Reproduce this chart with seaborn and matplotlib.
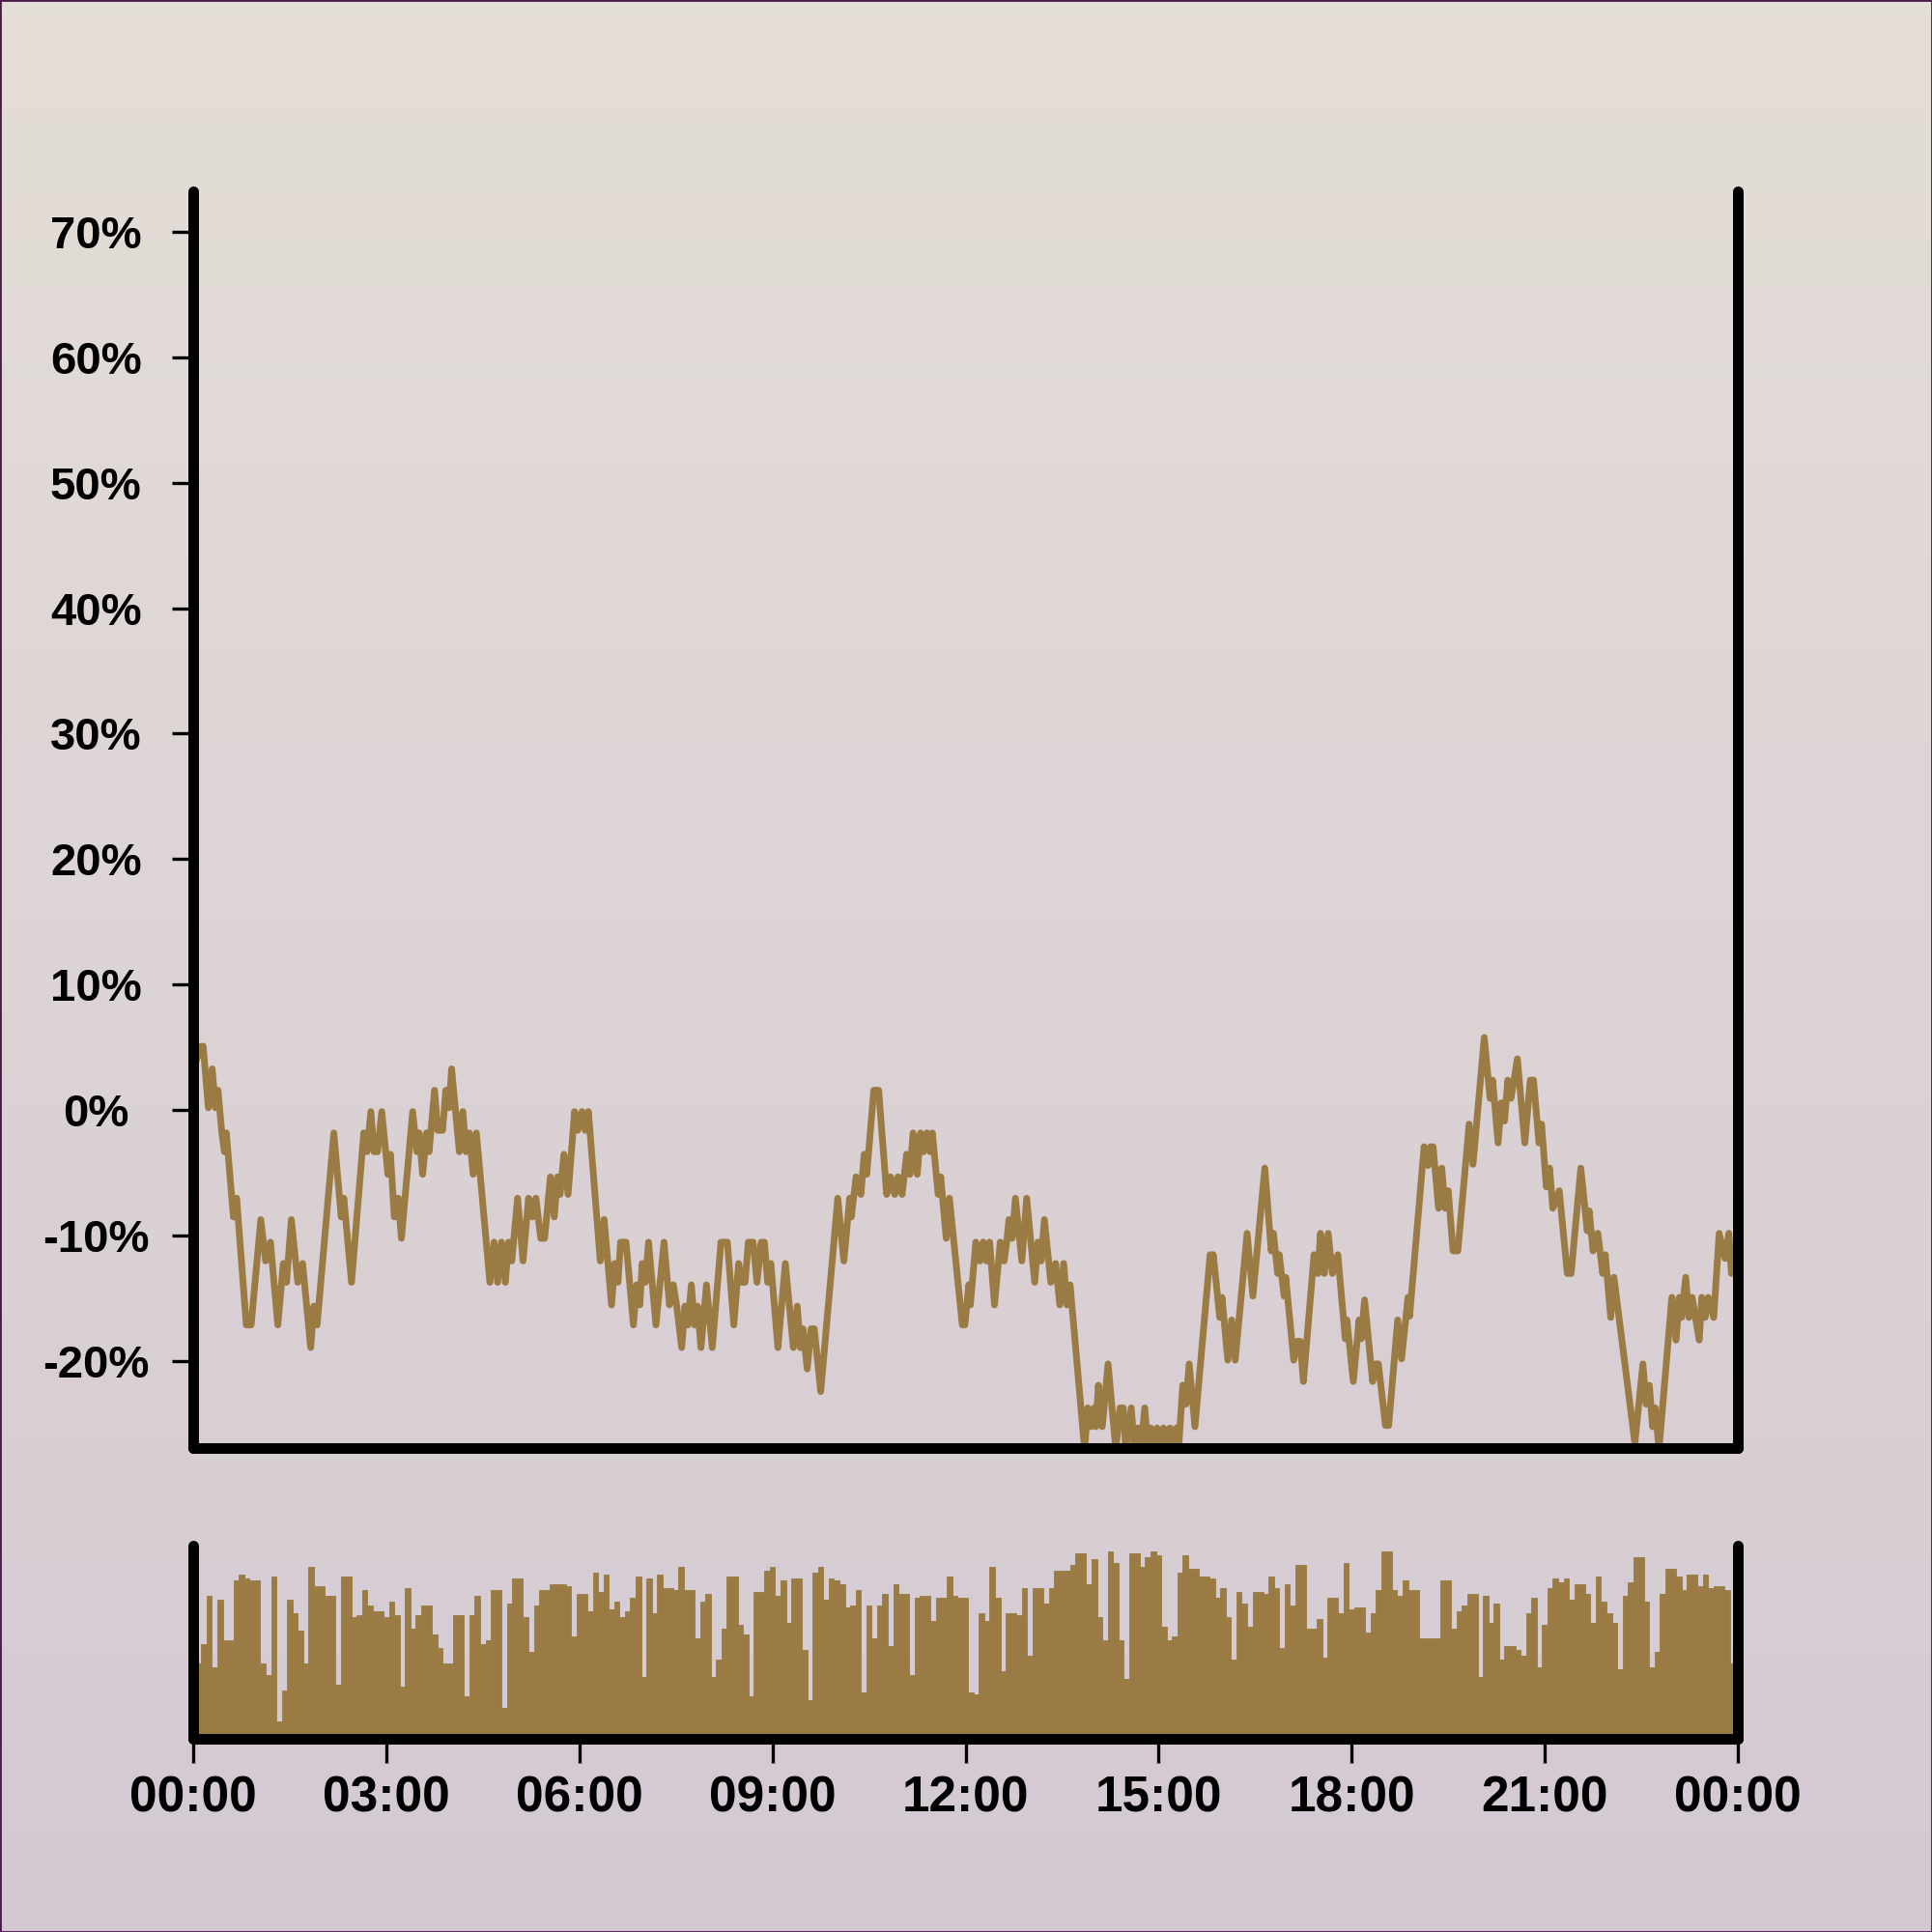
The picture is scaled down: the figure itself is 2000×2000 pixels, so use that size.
import numpy as np
import matplotlib
matplotlib.use("Agg")
import matplotlib.pyplot as plt
import seaborn as sns
from matplotlib.ticker import FixedLocator, FuncFormatter
from matplotlib.patches import Rectangle

# ---------------- data ----------------
# price change line: time (minutes after midnight) and change in %
line_minutes = [
    0, 7.5, 9.3, 14.1, 17.7, 20.7, 23.1, 26.7, 29.1, 30.9, 37.5, 40.5, 49.5, 54, 63, 67.5, 72, 78.9,
    84, 87, 91.5, 97.5, 102, 109.5, 112.5, 115.5, 131.1, 138, 140.4, 147.6, 159, 162, 165.6, 168.6,
    171.9, 175.8, 181.5, 183.9, 187.5, 191.1, 194.1, 204.6, 208.5, 210.6, 213.9, 217.5, 219.9, 225,
    228, 232.5, 235.5, 238.5, 240.9,
    248.1, 251.4, 254.4, 257.4, 261, 264, 276.6, 280.5, 283.8, 287.4, 291, 294, 297, 302.4, 307.5,
    312.6, 316.5, 319.5, 324, 327.6, 333, 336.6, 339.6, 342, 345.6, 349.5, 355.5, 358.5, 362.4,
    365.4, 368.4, 379.5, 383.1, 390, 393, 396, 398.4, 403.5, 410.4, 413.4, 416.4, 418.5, 421.5,
    424.5, 431.4, 438.9, 444, 447.6, 450.6, 455.4, 458.4, 461.1, 464.4, 467.4, 470.1, 473.4, 478.5,
    483.9, 492, 498, 504, 508.5, 511.5, 514.5, 517.5, 522, 525.6, 529.5, 532.5, 535.5, 538.5, 545.1,
    552, 559.5, 563.1, 566.1, 568.5, 572.4, 576, 579, 585, 600.9, 606.6, 612, 613.5, 618, 622.5,
    625.5, 627.9, 634.5, 639, 646.5, 650.1, 654, 657, 660.9, 665.1, 668.1, 671.1, 675, 678, 681,
    684, 687, 689.1, 694.5, 696.9, 702, 705, 717,
    719.4, 723, 724.5, 729.6, 733.5, 736.5, 739.5, 742.5, 747, 752.4, 756, 758.4, 760.5, 763.5,
    766.5, 772.5, 777, 784.5, 787.5, 790.5, 793.5, 799.5, 804, 807.9, 811.5, 814.5, 817.5, 831,
    834, 837, 840, 841.5, 843.9, 847.5, 852.9, 860.1, 864, 867, 869.4, 874.5, 877.5, 880.5, 883.5,
    887.1, 890.1, 892.5, 895.5, 898.5, 901.5, 904.5, 907.5, 910.5, 913.5, 916.5, 918.6, 922.5,
    925.5, 928.5, 933.9, 948, 951,
    957, 959.1, 964.5, 968.1, 971.4, 982.5, 987.9, 999, 1005, 1007.1, 1011, 1012.5, 1017, 1018.5,
    1026, 1029, 1032, 1035, 1044.9, 1048.5, 1050.9, 1054.5, 1058.1, 1062, 1067.1, 1074, 1075.5,
    1081.5, 1086.9, 1089, 1092, 1099.5, 1102.5, 1104.9, 1111.5, 1114.5, 1122.9, 1126.5, 1132.5,
    1134, 1147.5, 1151.1, 1153.5, 1155.9, 1161, 1164, 1167, 1170, 1174.5, 1179, 1189.5, 1193.1,
    1203.6, 1209, 1211.4, 1216.5, 1219.5, 1222.5, 1225.5, 1228.5, 1234.5, 1241.4, 1246.5, 1249.5,
    1254.6, 1257, 1261.5, 1264.5, 1267.5, 1273.5, 1281, 1284.6, 1293.6, 1299.6, 1301.4, 1305,
    1309.5, 1314, 1316.4, 1321.5, 1324.5, 1344, 1351.5, 1354.5, 1357.5, 1360.5, 1362.9, 1366.5,
    1378.5, 1382.4, 1385.4, 1387.5, 1391.4, 1394.4, 1397.4, 1404, 1406.4, 1409.4, 1412.4, 1417.5,
    1422.6, 1428, 1431.6, 1434,
]
line_pct = [
    3.3, 5.1, 5.1, 0.2, 3.3, 0.2, 1.6, -1.8, -3.3, -1.8, -8.5, -7.0, -17.1, -17.1, -8.7, -12.0, -10.5, -17.1,
    -12.2, -13.7, -8.7, -13.7, -12.2, -18.9, -15.6, -17.1, -1.8, -8.5, -7.0, -13.7, -1.8, -3.3, -0.1, -3.3,
    -3.3, -0.1, -5.1, -3.5, -8.5, -7.0, -10.2, -0.1, -3.3, -1.8, -5.1, -1.8, -3.3, 1.6,
    -1.6, -1.6, 1.6, 0.2, 3.3,
    -3.3, -0.1, -3.3, -1.8, -5.1, -1.8, -13.7, -10.5, -13.7, -10.5, -13.7, -10.5, -12.0, -7.0, -12.0,
    -7.0, -8.5, -7.0, -10.2, -10.2, -5.3, -8.5, -5.3, -6.7, -3.5, -6.7, -0.1, -1.6, -0.1,
    -1.6, -0.1, -12.0, -8.7, -15.5, -12.2, -13.7, -10.5, -10.5, -17.1, -13.9, -15.5, -12.2, -13.7,
    -10.5, -17.1, -10.5, -15.5, -13.9, -15.5, -18.9, -15.6, -17.1, -13.9, -17.1, -15.6, -18.9, -13.9,
    -18.9, -10.5, -10.5, -17.1, -12.2, -13.7, -13.7, -10.5, -10.5, -13.7, -10.5, -10.5, -13.7, -12.2, -18.9,
    -12.2, -18.9, -15.6, -18.9, -17.4, -20.6, -17.4, -17.4, -22.4, -7.0, -12.0, -7.0, -8.5, -5.3, -6.7,
    -3.5, -5.1, 1.6, 1.6, -6.7, -5.3, -6.7, -5.3, -6.7, -3.5, -5.1, -1.8, -5.1, -1.8, -3.3,
    -1.8, -3.3, -1.8, -6.7, -5.3, -10.2, -7.0, -17.1,
    -17.1, -13.9, -15.5, -10.5, -12.0, -10.5, -12.0, -10.5, -15.5, -10.5, -12.0, -10.5, -8.7, -10.2,
    -7.0, -12.0, -7.0, -13.7, -10.5, -12.0, -8.7, -13.7, -12.2, -15.5, -12.2, -15.5, -13.9, -27.0,
    -23.7, -25.2, -23.7, -25.2, -21.9, -25.2, -20.2, -27.0, -23.7, -23.7, -27.0, -23.7, -27.0, -25.3, -27.0,
    -23.7, -27.0, -25.3, -27.0, -25.3, -27.0, -25.3, -27.0, -25.3, -27.0, -25.3, -27.0, -21.9,
    -23.4, -20.2, -25.2, -11.5, -11.5,
    -16.5, -14.9, -19.9, -16.7, -19.9, -9.8, -14.8, -4.6, -11.2, -9.8, -13.0, -11.5, -14.8, -13.3,
    -19.9, -18.4, -18.4, -21.6, -11.5, -13.0, -9.8, -13.0, -9.8, -13.0, -11.5, -18.2, -16.7,
    -21.6, -16.7, -18.2, -15.1, -21.6, -20.2, -20.2, -25.1, -25.1, -16.7, -19.8, -14.9,
    -16.4, -2.9, -4.4, -2.9, -2.9, -7.8, -4.6, -7.8, -6.4, -11.2, -11.2, -1.1, -4.3,
    5.8, 0.95, 2.4, -2.6, 0.6, -0.85, 2.4, 0.95, 4.1, -2.6, 2.4, 2.4,
    -2.6, -1.1, -6.1, -4.6, -7.8, -6.4, -13.0, -13.0, -4.6, -9.6, -8.0, -11.2,
    -9.8, -13.0, -11.5, -16.5, -13.3, -26.5, -20.2, -23.4, -21.9, -25.2, -23.7, -27.0,
    -14.9, -18.3, -14.9, -16.5, -13.3, -16.5, -14.9, -18.3, -14.9, -16.5, -14.9, -16.5,
    -9.8, -11.8, -9.8, -13.0,
]

# volume bars, one every 5 minutes (relative units, 0-100)
bar_volume = [
    39, 39, 49, 74, 37, 72, 51, 51, 82, 85,
    83, 82, 82, 39, 33, 84, 9, 25, 72, 65,
    56, 39, 89, 79, 79, 74, 74, 28, 84, 84,
    63, 64, 77, 69, 66, 66, 63, 71, 64, 27,
    78, 57, 64, 69, 69, 54, 47, 39, 39, 64,
    64, 22, 64, 74, 49, 51, 77, 77, 16, 70,
    83, 83, 63, 45, 69, 77, 77, 80, 80, 80,
    79, 53, 75, 75, 66, 86, 76, 85, 67, 71,
    63, 66, 73, 84, 32, 83, 65, 85, 78, 78,
    77, 89, 77, 77, 52, 71, 75, 32, 41, 57,
    84, 84, 59, 54, 22, 76, 76, 87, 89, 74,
    82, 60, 83, 83, 46, 20, 86, 89, 72, 83,
    82, 80, 68, 69, 77, 24, 69, 52, 69, 75,
    48, 80, 75, 75, 33, 73, 74, 74, 61, 73,
    73, 84, 74, 73, 73, 24, 23, 65, 61, 89,
    73, 35, 65, 65, 64, 78, 43, 78, 78, 70,
    78, 87, 87, 87, 90, 96, 96, 80, 93, 63,
    51, 97, 91, 51, 31, 96, 96, 89, 94, 97,
    95, 58, 51, 53, 86, 95, 88, 88, 84, 84,
    83, 73, 78, 63, 41, 76, 70, 58, 76, 76,
    75, 84, 78, 47, 80, 69, 90, 90, 57, 57,
    62, 42, 73, 73, 65, 91, 67, 68, 68, 55,
    65, 77, 97, 97, 77, 74, 82, 77, 77, 52,
    52, 52, 52, 82, 82, 57, 66, 69, 75, 75,
    32, 74, 60, 70, 41, 48, 48, 46, 43, 65,
    73, 37, 59, 78, 83, 81, 83, 72, 80, 80,
    75, 60, 84, 71, 65, 60, 36, 74, 81, 94,
    94, 71, 37, 45, 75, 88, 88, 84, 77, 85,
    85, 79, 85, 78, 79, 79, 77, 39,
]
BAR_INTERVAL_MIN = 5
bar_minutes = [BAR_INTERVAL_MIN * i for i in range(len(bar_volume))]

y_ticks = [-20, -10, 0, 10, 20, 30, 40, 50, 60, 70]
x_tick_minutes = [0, 180, 360, 540, 720, 900, 1080, 1260, 1440]
x_tick_labels = ["00:00", "03:00", "06:00", "09:00", "12:00", "15:00", "18:00", "21:00", "00:00"]

# ---------------- style ----------------
COLOR = "#9a7b44"
plt.rcParams["font.family"] = ["Liberation Sans", "DejaVu Sans"]
plt.rcParams["font.weight"] = "bold"

fig = plt.figure(figsize=(20, 20), dpi=100)

# background gradient
bg = fig.add_axes([0, 0, 1, 1], zorder=-10)
t = np.linspace(0, 1, 256)[:, None, None]
top_c = np.array([0.894, 0.871, 0.843])
bot_c = np.array([0.831, 0.788, 0.827])
img = top_c[None, None, :] * (1 - t) + bot_c[None, None, :] * t
bg.imshow(img, aspect="auto", extent=[0, 1, 0, 1])
bg.axis("off")

ax = fig.add_axes([0.1, 0.2505, 0.7995, 0.6505])
axb = fig.add_axes([0.1, 0.10025, 0.7995, 0.1000])
for a in (ax, axb):
    a.set_facecolor("none")

# line chart
sns.lineplot(x=line_minutes, y=line_pct, ax=ax, color=COLOR, linewidth=5,
             estimator=None, sort=False, solid_joinstyle="round", solid_capstyle="round")
ax.set_xlim(0, 1440)
ax.set_ylim(-26.9, 73.2)
ax.set_xticks([])
ax.yaxis.set_major_locator(FixedLocator(y_ticks))
ax.yaxis.set_major_formatter(FuncFormatter(lambda v, p: f"{v:.0f}%"))
ax.tick_params(axis="y", length=16, width=2.4, color="black", pad=56.5,
               labelsize=34, labelcolor="black")
for lab in ax.get_yticklabels():
    lab.set_horizontalalignment("center")
    lab.set_fontweight("bold")
ax.set_xlabel("")
ax.set_ylabel("")

# volume bars
sns.barplot(x=bar_minutes, y=bar_volume, ax=axb, native_scale=True, orient="x",
            width=1.0, color=COLOR, saturation=1, errorbar=None,
            linewidth=0.6, edgecolor=COLOR)
axb.set_xlim(0, 1440)
axb.set_ylim(0, 100)
axb.set_yticks([])
axb.set_xticks(x_tick_minutes)
axb.set_xticklabels(x_tick_labels, fontsize=37, fontweight="bold")
axb.tick_params(axis="x", length=18, width=2.4, color="black", pad=9)
axb.set_xlabel("")
axb.set_ylabel("")

for a in (ax, axb):
    a.spines["top"].set_visible(False)
    for s in ("left", "right", "bottom"):
        a.spines[s].set_linewidth(7.9)
        a.spines[s].set_color("black")
        a.spines[s].set_capstyle("round")

# thin frame around the figure
fig.patches.append(Rectangle((0, 0), 1, 1, transform=fig.transFigure, fill=False,
                             edgecolor="#4a1a4a", linewidth=2))

fig.savefig("out.png", dpi=100)
